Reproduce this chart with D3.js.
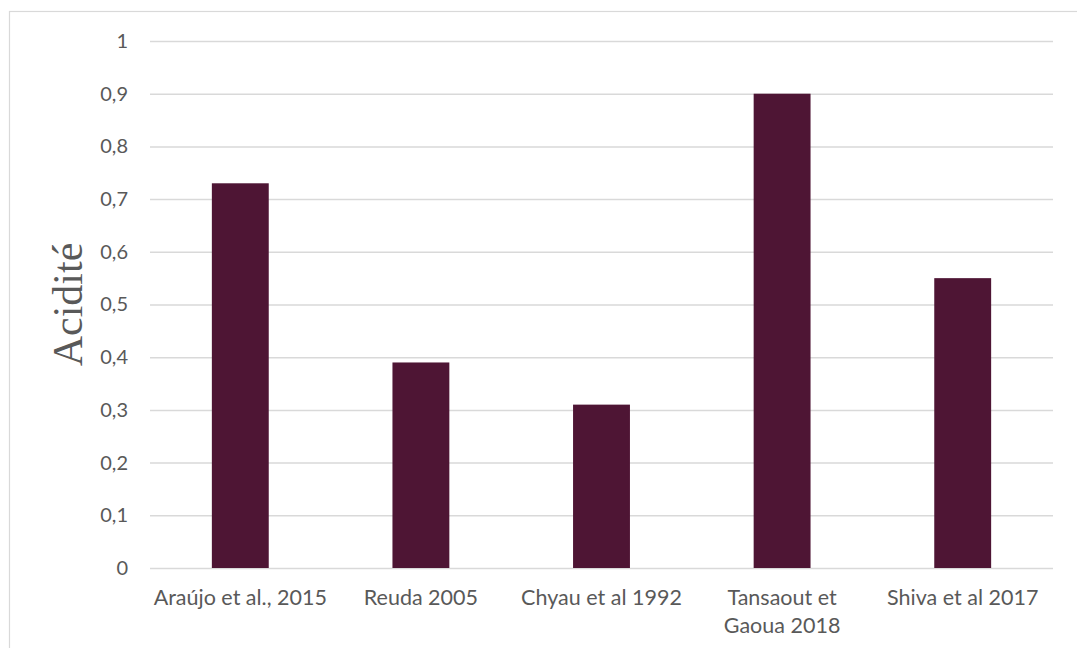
<!DOCTYPE html>
<html>
<head>
<meta charset="utf-8">
<script src="https://cdn.jsdelivr.net/npm/d3@7"></script>
<style>
  html, body { margin: 0; padding: 0; background: #fff; }
  svg { display: block; }
</style>
</head>
<body>
<svg id="chart" width="1077" height="648"></svg>
<script>
// Acidity reported by each study
const studies = [
  ["Araújo et al., 2015"],
  ["Reuda 2005"],
  ["Chyau et al 1992"],
  ["Tansaout et", "Gaoua 2018"],
  ["Shiva et al 2017"]
];
const studyKeys = studies.map(s => s.join(" "));
const acidity = [0.73, 0.39, 0.31, 0.9, 0.55];
const yTicks = [0, 0.1, 0.2, 0.3, 0.4, 0.5, 0.6, 0.7, 0.8, 0.9, 1];
const yTickLabels = ["0", "0,1", "0,2", "0,3", "0,4", "0,5", "0,6", "0,7", "0,8", "0,9", "1"];
const yTitle = "Acidité";

const svg = d3.select("#chart");
const plot = { left: 150, right: 1053, top: 41, bottom: 568 };
const textColor = "#595959";
const gridColor = "#d9d9d9";
const labelFont = "Lato, 'Open Sans', sans-serif";

// chart frame
svg.append("rect")
  .attr("x", 9.5).attr("y", 11.5)
  .attr("width", 1100).attr("height", 700)
  .attr("fill", "#fff")
  .attr("stroke", gridColor).attr("stroke-width", 1.2);

const x = d3.scaleBand()
  .domain(studyKeys)
  .range([plot.left, plot.right])
  .paddingInner(0.685)
  .paddingOuter(0.3425);

const y = d3.scaleLinear().domain([0, 1]).range([plot.bottom, plot.top]);

// horizontal gridlines + tick labels
const yAxis = d3.axisLeft(y)
  .tickValues(yTicks)
  .tickSize(-(plot.right - plot.left))
  .tickPadding(22)
  .tickFormat((d, i) => yTickLabels[i]);

const gy = svg.append("g")
  .attr("transform", `translate(${plot.left},0)`)
  .call(yAxis);
gy.select(".domain").remove();
gy.selectAll(".tick line").attr("stroke", gridColor).attr("stroke-width", 1.5);
gy.selectAll(".tick text")
  .attr("fill", textColor)
  .style("font-family", labelFont)
  .style("font-size", "20px");

// bars
svg.append("g").selectAll("rect")
  .data(acidity)
  .join("rect")
  .attr("x", (d, i) => x(studyKeys[i]))
  .attr("y", d => y(d))
  .attr("width", x.bandwidth())
  .attr("height", d => y(0) - y(d))
  .attr("fill", "#4e1534");

// category labels
const gx = svg.append("g");
studies.forEach((lines, i) => {
  const t = gx.append("text")
    .attr("x", x(studyKeys[i]) + x.bandwidth() / 2)
    .attr("y", 605)
    .attr("text-anchor", "middle")
    .attr("fill", textColor)
    .style("font-family", labelFont)
    .style("font-size", "21.5px");
  lines.forEach((ln, j) => {
    t.append("tspan")
      .attr("x", x(studyKeys[i]) + x.bandwidth() / 2)
      .attr("dy", j === 0 ? 0 : 28)
      .text(ln);
  });
});

// y-axis title
svg.append("text")
  .attr("transform", `translate(82,${(plot.top + plot.bottom) / 2}) rotate(-90)`)
  .attr("text-anchor", "middle")
  .attr("fill", textColor)
  .style("font-family", "'Liberation Serif', 'Times New Roman', serif")
  .style("font-size", "42px")
  .text(yTitle);
</script>
</body>
</html>
